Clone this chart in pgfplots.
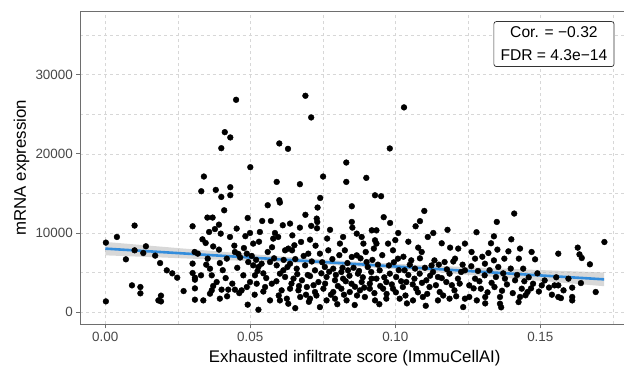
\documentclass[border=0pt]{standalone}
\usepackage{fontspec}
\setmainfont{Liberation Sans}
\usepackage{pgfplots}
\usepackage{pgfplotstable}
\pgfplotsset{compat=1.18}
\definecolor{fitblue}{RGB}{51,141,220}
\definecolor{gridc}{RGB}{215,215,215}
\definecolor{bordc}{RGB}{110,110,110}
\pgfplotstableread{
x y
0.0451 26840
0.0690 27350
0.0710 24610
0.0412 22750
0.0431 22080
0.0400 20720
0.0600 21320
0.0630 20640
0.0831 18910
0.0500 18320
0.0340 17140
0.0751 17140
0.0831 16460
0.0591 16460
0.0671 16170
0.0331 15280
0.0381 15450
0.0431 15790
0.0400 14560
0.0431 14780
0.0600 14140
0.0741 14430
0.1030 25880
0.0981 20690
0.0900 16970
0.0930 14770
0.0951 14650
0.0002 8785
0.0002 1355
0.0040 9500
0.0101 10940
0.0071 6670
0.0101 7810
0.0140 8320
0.0131 7470
0.0172 7140
0.0189 6200
0.0212 5280
0.0231 4900
0.0248 4350
0.0092 3380
0.0121 3170
0.0121 2370
0.0192 2080
0.0183 1480
0.0192 1350
0.0270 2660
0.0301 10850
0.0308 7600
0.0301 6130
0.0301 4940
0.0309 4350
0.0309 3000
0.0309 1570
0.0309 4100
0.0319 7390
0.0410 12870
0.0560 13510
0.0602 13850
0.0352 11950
0.0370 11950
0.0392 11060
0.0491 11900
0.0541 11520
0.0571 11520
0.0612 10980
0.0358 10130
0.0398 9920
0.0430 9500
0.0453 10560
0.0499 10000
0.0533 10130
0.0585 10000
0.0579 9290
0.0596 9500
0.0346 8740
0.0392 7900
0.0510 8660
0.0620 7810
0.0447 7600
0.0459 7350
0.0488 7390
0.0353 6760
0.0419 6760
0.0493 6330
0.0510 5910
0.0528 5700
0.0539 6120
0.0568 6330
0.0591 5910
0.0602 4860
0.0361 5490
0.0367 4650
0.0330 4650
0.0384 3800
0.0367 2750
0.0401 2840
0.0424 2840
0.0447 2840
0.0470 2750
0.0488 3170
0.0499 3800
0.0551 3170
0.0574 3590
0.0522 3590
0.0516 4650
0.0476 4650
0.0568 1480
0.0602 1480
0.0491 940
0.0528 300
0.0338 1480
0.0361 2330
0.0608 2750
0.0626 1700
0.0614 5280
0.0732 13220
0.0850 13380
0.0637 11190
0.0671 10680
0.0729 11820
0.0731 11390
0.0710 10900
0.0730 10600
0.0850 11400
0.0852 10680
0.0867 9920
0.0884 9500
0.0919 10340
0.0930 9080
0.0890 8660
0.0926 8030
0.0631 8030
0.0652 8450
0.0675 8870
0.0706 9160
0.0644 7810
0.0700 7390
0.0740 7390
0.0769 7810
0.0809 8660
0.0826 7810
0.0850 6970
0.0867 7180
0.0901 6330
0.0637 6120
0.0660 5490
0.0689 5910
0.0723 5280
0.0757 5700
0.0786 5490
0.0814 5070
0.0837 5280
0.0871 4860
0.0917 5070
0.0620 4440
0.0649 4230
0.0678 4020
0.0706 4550
0.0735 3800
0.0763 4440
0.0792 4020
0.0820 4230
0.0849 3590
0.0884 3800
0.0918 4230
0.0637 2960
0.0666 2750
0.0695 3170
0.0723 2540
0.0752 2960
0.0786 2540
0.0814 2960
0.0843 2540
0.0878 2750
0.0912 2960
0.0672 1910
0.0706 1700
0.0763 1480
0.0792 1700
0.0832 1480
0.0895 1910
0.0631 1060
0.0740 630
0.0930 1480
0.1100 12790
0.0982 11270
0.1070 10850
0.1010 10000
0.1112 9500
0.1131 10000
0.0935 10340
0.0935 8660
0.0975 8660
0.0992 7810
0.1079 8150
0.1091 7600
0.1189 8150
0.1206 6760
0.1240 8660
0.1217 8030
0.1009 6760
0.1055 6540
0.1135 6540
0.1170 6330
0.0946 5280
0.0981 4860
0.1032 5280
0.1084 4860
0.1130 5070
0.1187 4860
0.1227 5070
0.0935 4230
0.0969 3800
0.1003 4440
0.1038 3800
0.1066 4230
0.1107 4020
0.1147 4440
0.1176 3800
0.1216 4230
0.0958 2960
0.0992 2960
0.1026 3170
0.1072 2960
0.1118 3170
0.1153 2540
0.1204 2750
0.0969 1700
0.1015 1700
0.1061 1480
0.1095 1910
0.1147 1480
0.1187 1700
0.1234 630
0.1410 12460
0.1350 11400
0.1340 9580
0.1263 7600
0.1321 7470
0.1352 7900
0.1390 7680
0.1430 8030
0.1482 6670
0.1562 7390
0.1275 6760
0.1309 6120
0.1340 6540
0.1376 6760
0.1426 6760
0.1441 5490
0.1240 5280
0.1275 4230
0.1308 4650
0.1347 4440
0.1378 4230
0.1413 4020
0.1475 3590
0.1505 3380
0.1549 3380
0.1255 3380
0.1295 2960
0.1342 3170
0.1436 2960
0.1255 1910
0.1281 1480
0.1310 1910
0.1361 1910
0.1361 1060
0.1430 1910
0.1449 2120
0.1456 2540
0.1425 1270
0.1562 1910
0.1240 1700
0.1721 8860
0.1629 8150
0.1635 7300
0.1643 6840
0.1671 6040
0.1597 4230
0.1640 3670
0.1562 3380
0.1610 3090
0.1580 2750
0.1691 2540
0.1571 1770
0.1610 1910
0.1610 1480
0.0335 9200
0.0372 8300
0.0395 6200
0.0405 5300
0.0415 4300
0.0438 3600
0.0455 5600
0.0465 6900
0.0478 8100
0.0483 9600
0.0505 7100
0.0520 6600
0.0525 5200
0.0545 4900
0.0555 4300
0.0560 7600
0.0582 6800
0.0590 3900
0.0545 2600
0.0515 2200
0.0462 2400
0.0420 2000
0.0395 1700
0.0372 3300
0.0348 6000
0.0378 10500
0.0445 8400
0.0530 8900
0.0575 8200
0.0598 2100
0.0615 6600
0.0628 5700
0.0642 3600
0.0655 6700
0.0662 4800
0.0668 3300
0.0684 7100
0.0692 2200
0.0698 4700
0.0712 6400
0.0718 3400
0.0725 8400
0.0728 2100
0.0745 4900
0.0748 6300
0.0758 3600
0.0765 9300
0.0772 5100
0.0778 2200
0.0783 6700
0.0795 4700
0.0802 3300
0.0807 7200
0.0818 5600
0.0823 2200
0.0829 3900
0.0835 6200
0.0842 4600
0.0856 5600
0.0861 3200
0.0868 2100
0.0875 5200
0.0880 6800
0.0888 4400
0.0893 3100
0.0898 7600
0.0690 12300
0.0775 10400
0.0820 9500
0.0645 9700
0.0702 1300
0.0800 1000
0.0860 900
0.0655 500
0.0905 5700
0.0912 3600
0.0921 6600
0.0928 2400
0.0940 6000
0.0948 3300
0.0955 7200
0.0962 4400
0.0970 2300
0.0978 5900
0.0988 3500
0.0995 6300
0.1002 2500
0.1012 5300
0.1020 3900
0.1028 7000
0.1035 2100
0.1045 4700
0.1050 6000
0.1060 3500
0.1068 5500
0.1078 2500
0.1085 6800
0.1092 3700
0.1102 5600
0.1110 2300
0.1120 4600
0.1125 5900
0.1140 3400
0.1150 6000
0.1160 4300
0.1165 2100
0.1178 5400
0.1195 3400
0.1200 6400
0.1210 2000
0.1222 3600
0.1232 6000
0.1000 9100
0.1045 8900
0.1160 8700
0.1085 11500
0.0960 12000
0.1180 10400
0.0945 1000
0.1105 800
0.1040 1100
0.1262 5800
0.1270 3000
0.1285 5200
0.1290 3900
0.1300 7000
0.1318 2500
0.1325 5300
0.1332 3700
0.1355 5700
0.1368 2700
0.1372 4900
0.1385 3500
0.1398 5500
0.1405 2400
0.1420 4700
0.1445 3900
0.1460 4400
0.1468 3000
0.1490 4900
0.1495 2600
0.1515 4000
0.1530 3100
0.1540 2200
0.1555 4400
0.1330 8700
0.1400 9200
0.1470 7600
0.1280 10100
0.1365 600
0.1310 1100
}\pts
\begin{document}
\begin{tikzpicture}
\begin{axis}[
  scale only axis, width=548pt, height=313pt,
  xmin=-0.0086, xmax=0.1806, ymin=-1560, ymax=38060,
  scaled ticks=false,
  xtick={0,0.05,0.1,0.15}, xticklabels={0.00,0.05,0.10,0.15},
  ytick={0,10000,20000,30000}, yticklabels={0,10000,20000,30000},
  minor xtick={0.025,0.075,0.125,0.175}, minor ytick={5000,15000,25000,35000},
  grid=both,
  major grid style={gridc, line width=0.6pt, dash pattern=on 3pt off 3pt},
  minor grid style={gridc, line width=0.6pt, dash pattern=on 3pt off 3pt},
  tick align=outside, major tick length=4pt, minor tick length=0pt,
  xtick pos=bottom, ytick pos=left,
  axis line style={bordc, line width=0.8pt},
  every tick/.style={bordc, line width=0.8pt},
  tick label style={font=\fontsize{13.4}{16}\selectfont, text=black!72},
  /pgf/number format/assume math mode=true,
  xlabel={Exhausted infiltrate score (ImmuCellAI)}, ylabel={mRNA expression},
  label style={font=\fontsize{16.8}{20}\selectfont},
  xlabel style={at={(axis description cs:0.5,-0.1204)}, anchor=base},
  ylabel style={at={(axis description cs:-0.0995,0.5)}, anchor=base},
]
\addplot[only marks, mark=*, mark size=2.9pt, mark options={fill=black, draw=black, line width=0.4pt}] table[x=x,y=y] {\pts};
\addplot[fill=gray!60, fill opacity=0.5, draw=none] coordinates {
 (0,8875) (0.02,8251) (0.04,7638) (0.06,7050) (0.085,6405) (0.11,5920) (0.13,5605) (0.15,5315) (0.172,5007)
 (0.172,3273) (0.15,3959) (0.13,4571) (0.11,5160) (0.085,5805) (0.06,6290) (0.04,6604) (0.02,6895) (0,7175)};
\addplot[fitblue, line width=2.6pt] coordinates {(0,8025) (0.172,4140)};
\node[draw=black!80, line width=0.7pt, rounded corners=2.5pt, fill=white, align=center,
  font=\fontsize{15.6}{23}\selectfont, minimum width=120pt, minimum height=45pt, inner sep=0pt]
  at (axis cs:0.1547,33886) {Cor. = −0.32\\FDR = 4.3e−14};
\coordinate (BL) at (axis cs:-0.03631,-7000);
\coordinate (TR) at (axis cs:0.17886,39456);
\end{axis}
\pgfresetboundingbox
\useasboundingbox (BL) rectangle (TR);
\end{tikzpicture}
\end{document}
